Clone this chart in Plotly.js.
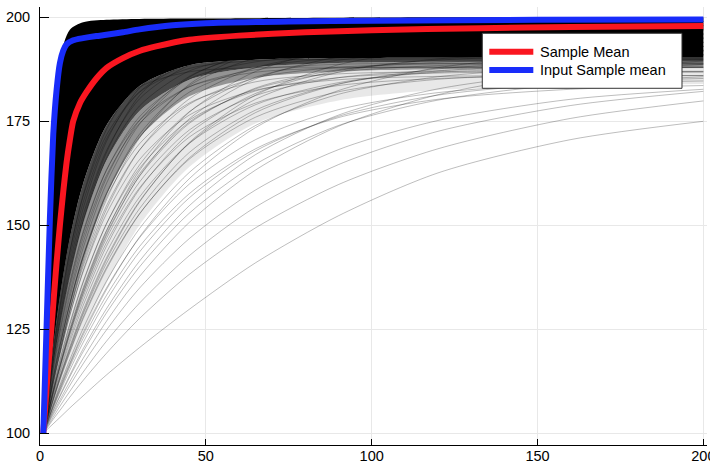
<!DOCTYPE html>
<html>
<head>
<meta charset="utf-8">
<script src="https://cdn.plot.ly/plotly-3.0.1.min.js"></script>
<style>html,body{margin:0;padding:0;background:#fff;}#chart{width:710px;height:468px;}</style>
</head>
<body>
<div id="chart"></div>
<script>
// ---- data ----
const seriesNames = ['Sample Mean', 'Input Sample mean'];
const xTicks = [0, 50, 100, 150, 200];
const yTicks = [100, 125, 150, 175, 200];

// shared x positions for the gray sample runs and the dense band envelopes
const xGrid = [1, 2, 4, 6, 9, 13, 20, 30, 45, 65, 90, 120, 160, 200];

// envelopes of the densely overlapping region of gray runs
const denseTop   = [100, 127, 173, 190, 197, 198.8, 199.4, 199.6, 199.7, 199.8, 199.9, 200, 200, 200];
const denseCore  = [100, 107, 121, 133, 147, 160, 174, 183.5, 188.5, 189.8, 190.2, 190.3, 190.3, 190.3];
const denseInner = [100, 105.5, 116.5, 126, 138, 150.5, 165.5, 177.5, 185, 188, 189, 189.3, 189.3, 189.3];
const denseMid   = [100, 104, 112, 119, 129, 141, 157, 171, 181, 185.5, 187, 187.5, 187.8, 188];
const denseLow   = [100, 102, 106, 110, 116, 124, 136, 150, 164, 174.5, 180, 182.5, 183.5, 184];

// individual gray sample runs
const run01 = [100, 100.8, 102.3, 103.8, 106.1, 109.0, 114.0, 120.6, 129.8, 141.0, 152.3, 162.6, 170.6, 175.0];
const run02 = [100, 101.3, 103.9, 106.5, 110.1, 114.7, 122.1, 131.3, 142.7, 154.4, 164.6, 172.6, 178.8, 182.2];
const run03 = [100, 101.5, 104.5, 107.4, 111.5, 116.7, 124.8, 134.9, 146.8, 158.5, 168.2, 175.2, 180.3, 182.7];
const run04 = [100, 101.8, 105.4, 108.8, 113.6, 119.6, 128.9, 140.0, 152.9, 164.7, 174.0, 180.1, 184.0, 185.7];
const run05 = [100, 102.1, 106.1, 109.9, 115.2, 121.8, 131.9, 143.6, 156.6, 167.9, 176.2, 181.3, 184.2, 185.3];
const run06 = [100, 102.4, 107.1, 111.6, 117.7, 125.2, 136.5, 149.2, 162.7, 174.0, 181.5, 185.7, 187.9, 188.6];
const run07 = [100, 102.8, 108.0, 113.0, 119.7, 127.9, 139.8, 152.8, 165.9, 176.0, 182.1, 185.1, 186.5, 186.8];
const run08 = [100, 103.2, 109.3, 114.9, 122.7, 131.8, 144.9, 158.7, 172.1, 181.7, 187.2, 189.7, 190.7, 190.9];
const run09 = [100, 103.4, 109.9, 115.9, 124.1, 133.5, 146.8, 160.4, 172.9, 181.2, 185.5, 187.2, 187.8, 188.0];
const run10 = [100, 104.1, 111.8, 118.9, 128.4, 139.1, 153.8, 168.1, 180.4, 187.9, 191.4, 192.6, 192.9, 193.0];
const run11 = [100, 104.4, 112.4, 119.7, 129.4, 140.1, 154.6, 168.1, 179.1, 185.4, 188.0, 188.8, 189.0, 189.0];
const run12 = [100, 105.1, 114.5, 122.8, 133.7, 145.8, 161.3, 175.2, 185.8, 191.3, 193.3, 193.9, 194.0, 194.0];
const run13 = [100, 105.6, 115.6, 124.4, 135.8, 148.0, 163.2, 176.1, 185.2, 189.3, 190.7, 190.9, 191.0, 191.0];
const run14 = [100, 106.4, 118.0, 128.0, 140.7, 154.0, 170.1, 183.0, 191.4, 194.8, 195.8, 196.0, 196.0, 196.0];
const run15 = [100, 106.8, 119.0, 129.3, 142.2, 155.5, 170.7, 182.1, 188.9, 191.3, 191.9, 192.0, 192.0, 192.0];
const run16 = [100, 107.8, 121.4, 133.1, 147.2, 161.3, 177.1, 188.3, 194.5, 196.5, 196.9, 197.0, 197.0, 197.0];
const run17 = [100, 108.1, 122.2, 133.9, 148.1, 161.8, 176.4, 186.3, 191.3, 192.7, 193.0, 193.0, 193.0, 193.0];
const run18 = [100, 109.3, 125.4, 138.5, 154.0, 168.5, 183.3, 192.6, 196.8, 197.8, 198.0, 198.0, 198.0, 198.0];
const run19 = [100, 109.9, 126.6, 140.0, 155.4, 169.2, 182.6, 190.2, 193.3, 193.9, 194.0, 194.0, 194.0, 194.0];
const run20 = [100, 111.6, 131.0, 146.0, 162.6, 176.9, 189.8, 196.4, 198.6, 199.0, 199.0, 199.0, 199.0, 199.0];
const run21 = [100, 112.6, 133.2, 148.5, 164.7, 177.9, 188.7, 193.5, 194.8, 195.0, 195.0, 195.0, 195.0, 195.0];
const run22 = [100, 114.9, 138.1, 154.8, 171.4, 183.9, 192.9, 196.2, 196.9, 197.0, 197.0, 197.0, 197.0, 197.0];
const run23 = [100, 117.9, 144.6, 162.6, 179.0, 190.0, 196.8, 198.7, 199.0, 199.0, 199.0, 199.0, 199.0, 199.0];
const run24 = [100, 119.1, 146.8, 164.4, 179.8, 189.3, 194.6, 195.8, 196.0, 196.0, 196.0, 196.0, 196.0, 196.0];
const run25 = [100, 124.4, 156.4, 174.5, 188.0, 194.8, 197.6, 198.0, 198.0, 198.0, 198.0, 198.0, 198.0, 198.0];
const run26 = [100, 102.7, 107.8, 112.7, 119.4, 127.5, 139.4, 152.7, 166.2, 177.1, 183.9, 187.6, 189.3, 189.8];
const run27 = [100, 103.8, 110.8, 117.3, 126.1, 136.2, 150.3, 164.5, 177.3, 185.6, 189.7, 191.4, 191.9, 192.0];
const run28 = [100, 104.8, 113.9, 121.9, 132.7, 144.5, 160.0, 174.3, 185.6, 191.7, 194.1, 194.8, 195.0, 195.0];
const run29 = [100, 105.7, 116.0, 124.9, 136.4, 148.5, 163.2, 175.3, 183.3, 186.8, 187.8, 188.0, 188.0, 188.0];
const run30 = [100, 108.8, 124.1, 136.8, 151.7, 166.1, 181.1, 190.9, 195.5, 196.8, 197.0, 197.0, 197.0, 197.0];
const run31 = [100, 104.2, 112.0, 119.0, 128.4, 138.8, 152.7, 165.8, 176.5, 182.5, 185.0, 185.8, 186.0, 186.0];
const run32 = [100, 114.2, 136.6, 153.1, 170.1, 183.4, 193.7, 197.9, 198.9, 199.0, 199.0, 199.0, 199.0, 199.0];
const run33 = [100, 103.4, 109.9, 115.9, 124.1, 133.7, 147.5, 161.9, 175.6, 185.2, 190.5, 192.9, 193.7, 193.9];
const run34 = [100, 102.2, 106.4, 110.3, 116.0, 122.8, 133.1, 144.9, 157.6, 168.4, 175.9, 180.3, 182.7, 183.6];
const run35 = [100, 101.1, 103.4, 105.5, 108.7, 112.7, 119.2, 127.6, 138.2, 149.4, 159.8, 168.4, 175.7, 179.9];
const run36 = [100, 102.9, 108.5, 113.7, 120.9, 129.5, 142.1, 155.8, 169.7, 180.3, 186.8, 190.0, 191.4, 191.8];
const run37 = [100, 103.1, 109.0, 114.4, 121.9, 130.7, 143.4, 156.8, 169.7, 179.0, 184.3, 186.8, 187.7, 187.9];
const run38 = [100, 103.5, 110.2, 116.3, 124.7, 134.3, 147.9, 161.8, 174.5, 183.0, 187.4, 189.2, 189.8, 190.0];
const run39 = [100, 103.8, 111.0, 117.7, 126.5, 136.5, 150.3, 163.7, 175.3, 182.3, 185.5, 186.6, 186.9, 187.0];
const run40 = [100, 104.6, 113.3, 121.0, 131.3, 142.6, 157.5, 171.2, 182.0, 187.9, 190.2, 190.8, 191.0, 191.0];
const run41 = [100, 105.4, 115.2, 123.9, 135.0, 147.0, 161.9, 174.5, 183.3, 187.4, 188.7, 188.9, 189.0, 189.0];
const run42 = [100, 106.2, 117.4, 127.2, 139.4, 152.4, 167.9, 180.4, 188.5, 191.9, 192.8, 193.0, 193.0, 193.0];
const run43 = [100, 107.2, 119.9, 130.7, 143.8, 156.9, 171.6, 182.0, 187.7, 189.6, 189.9, 190.0, 190.0, 190.0];
const run44 = [100, 108.3, 122.7, 134.7, 149.1, 163.1, 178.1, 188.2, 193.3, 194.7, 195.0, 195.0, 195.0, 195.0];
const run45 = [100, 109.6, 125.8, 138.8, 153.6, 167.0, 180.0, 187.4, 190.3, 190.9, 191.0, 191.0, 191.0, 191.0];
const run46 = [100, 111.3, 130.0, 144.6, 160.7, 174.6, 187.1, 193.4, 195.6, 196.0, 196.0, 196.0, 196.0, 196.0];
const run47 = [100, 112.2, 132.1, 146.9, 162.7, 175.4, 185.9, 190.5, 191.8, 192.0, 192.0, 192.0, 192.0, 192.0];
const run48 = [100, 115.1, 138.5, 155.4, 172.1, 184.8, 193.9, 197.2, 197.9, 198.0, 198.0, 198.0, 198.0, 198.0];
const run49 = [100, 102.3, 106.8, 111.1, 116.9, 124.1, 134.9, 147.0, 159.9, 170.6, 177.8, 181.9, 184.0, 184.7];
const run50 = [100, 102.2, 106.6, 110.7, 116.5, 123.6, 134.5, 147.2, 161.2, 173.5, 182.4, 187.9, 191.0, 192.3];
const run51 = [100, 103.5, 110.1, 116.2, 124.6, 134.5, 148.5, 163.2, 177.2, 187.0, 192.4, 194.8, 195.7, 195.9];
const run52 = [100, 103.6, 110.5, 116.7, 125.2, 135.0, 148.7, 162.4, 174.8, 182.8, 186.8, 188.4, 188.9, 189.0];
const run53 = [100, 104.6, 113.1, 120.8, 131.0, 142.4, 157.6, 171.9, 183.6, 190.2, 192.9, 193.8, 194.0, 194.0];
const run54 = [100, 104.7, 113.4, 121.1, 131.2, 142.4, 156.7, 169.6, 179.4, 184.5, 186.4, 186.9, 187.0, 187.0];
const run55 = [100, 105.9, 116.7, 126.1, 138.0, 150.7, 166.1, 178.7, 187.1, 190.7, 191.8, 192.0, 192.0, 192.0];
const run56 = [100, 107.0, 119.6, 130.3, 143.6, 157.3, 173.0, 184.8, 191.8, 194.3, 194.9, 195.0, 195.0, 195.0];
const run57 = [100, 108.4, 122.8, 134.6, 148.5, 161.5, 174.8, 183.2, 186.9, 187.9, 188.0, 188.0, 188.0, 188.0];
const run58 = [100, 104.3, 112.3, 119.7, 129.6, 140.7, 156.1, 171.0, 183.9, 191.7, 195.3, 196.6, 196.9, 197.0];
const run59 = [100, 101.9, 105.6, 109.1, 114.0, 120.3, 129.9, 141.4, 154.7, 167.0, 176.5, 182.8, 186.9, 188.7];
const run60 = [100, 102.9, 108.3, 113.4, 120.4, 129.0, 141.6, 155.6, 169.9, 181.3, 188.6, 192.4, 194.2, 194.8];
const run61 = [100, 103.4, 109.7, 115.6, 123.6, 132.8, 145.8, 159.0, 171.2, 179.4, 183.6, 185.3, 185.8, 186.0];
const run62 = [100, 101.7, 104.9, 108.0, 112.4, 118.0, 126.9, 137.7, 150.7, 163.3, 173.8, 181.4, 186.9, 189.5];
const run63 = [100, 105.9, 116.6, 126.0, 138.1, 151.2, 167.4, 181.2, 190.8, 195.2, 196.6, 196.9, 197.0, 197.0];
const run64 = [100, 109.8, 126.3, 139.6, 154.8, 168.4, 181.7, 189.3, 192.3, 192.9, 193.0, 193.0, 193.0, 193.0];
const run65 = [100, 102.8, 108.2, 113.3, 120.2, 128.6, 140.8, 154.0, 167.5, 177.7, 184.0, 187.1, 188.5, 188.8];

// sample mean (red)
const meanX = [1, 2, 3, 4, 5, 6, 7, 8, 9, 10, 12, 14, 17, 20, 25, 30, 35, 45, 60, 80, 100, 133, 160, 200];
const meanY = [100, 111, 121, 131, 141, 150, 158, 165, 170.5, 175, 179.3, 182, 185.3, 187.8, 190.2, 191.9, 193, 194.6, 195.6, 196.4, 196.9, 197.4, 197.7, 197.9];
// input sample mean (blue)
const inputX = [1, 2, 3, 4, 5, 6, 7, 8, 10, 13, 17, 20, 25, 30, 40, 50, 75, 100, 150, 200];
const inputY = [100, 126, 152, 172, 182.5, 189, 192, 193.5, 194.5, 195, 195.5, 195.8, 196.4, 197.1, 198.1, 198.6, 199, 199.2, 199.4, 199.5];

const grayRuns = [run01, run02, run03, run04, run05, run06, run07, run08, run09, run10,
  run11, run12, run13, run14, run15, run16, run17, run18, run19, run20,
  run21, run22, run23, run24, run25, run26, run27, run28, run29, run30,
  run31, run32, run33, run34, run35, run36, run37, run38, run39, run40,
  run41, run42, run43, run44, run45, run46, run47, run48, run49, run50,
  run51, run52, run53, run54, run55, run56, run57, run58, run59, run60,
  run61, run62, run63, run64, run65];

// ---- styles ----
const RED = 'rgb(250,22,32)';
const BLUE = 'rgb(24,44,250)';
const FONT = '"Liberation Sans", Arial, Helvetica, sans-serif';

const traces = [];
function band(y, fill, fillcolor) {
  const t = {x: xGrid, y: y, type: 'scatter', mode: 'lines',
    line: {width: 0, shape: 'spline', smoothing: 0.8, color: 'rgba(0,0,0,0)'},
    hoverinfo: 'skip', showlegend: false};
  if (fill) { t.fill = 'tonexty'; t.fillcolor = fillcolor; }
  return t;
}
traces.push(band(denseLow, false));
traces.push(band(denseMid, true, 'rgba(0,0,0,0.09)'));
traces.push(band(denseInner, true, 'rgba(0,0,0,0.42)'));
traces.push(band(denseCore, true, 'rgba(0,0,0,0.72)'));
traces.push(band(denseTop, true, 'rgba(0,0,0,1)'));

grayRuns.forEach(function (r) {
  traces.push({x: xGrid, y: r, type: 'scatter', mode: 'lines',
    line: {width: 1, color: 'rgba(0,0,0,0.26)', shape: 'spline', smoothing: 0.8},
    hoverinfo: 'skip', showlegend: false});
});

traces.push({x: meanX, y: meanY, name: seriesNames[0], type: 'scatter', mode: 'lines',
  line: {width: 6, color: RED, shape: 'spline', smoothing: 0.6}});
traces.push({x: inputX, y: inputY, name: seriesNames[1], type: 'scatter', mode: 'lines',
  line: {width: 6, color: BLUE, shape: 'spline', smoothing: 0.6}});

// legend drawn in paper coordinates
const lgX0 = 0.6631, lgX1 = 0.9625, lgY0 = 0.8144, lgY1 = 0.9400;
const swX0 = 0.6736, swX1 = 0.7396, row1 = 0.8979, row2 = 0.8562, txtX = 0.7465;

const layout = {
  width: 710, height: 468,
  margin: {l: 40, r: 3, t: 7, b: 23, pad: 0},
  paper_bgcolor: '#fff', plot_bgcolor: '#fff',
  showlegend: false,
  font: {family: FONT, size: 14.5, color: '#000'},
  xaxis: {range: [0, 201.1], tickvals: xTicks, ticktext: xTicks.map(String),
    ticks: 'inside', ticklen: 6, tickwidth: 1, tickcolor: '#000',
    showline: true, linecolor: '#000', linewidth: 1,
    showgrid: true, gridcolor: '#e8e8e8', gridwidth: 1, zeroline: false,
    ticklabeloverflow: 'allow',
    tickfont: {family: FONT, size: 14.5, color: '#000'}, ticklabelstandoff: -2},
  yaxis: {range: [97.19, 202.48], tickvals: yTicks, ticktext: yTicks.map(String),
    ticks: 'inside', ticklen: 9, tickwidth: 1, tickcolor: '#000',
    showline: true, linecolor: '#000', linewidth: 1,
    showgrid: true, gridcolor: '#e8e8e8', gridwidth: 1, zeroline: false,
    tickfont: {family: FONT, size: 14.5, color: '#000'}, ticklabelstandoff: 6},
  shapes: [
    {type: 'rect', xref: 'paper', yref: 'paper', x0: lgX0, x1: lgX1, y0: lgY0, y1: lgY1,
      line: {color: '#333', width: 1}, fillcolor: '#fff', layer: 'above'},
    {type: 'line', xref: 'paper', yref: 'paper', x0: swX0, x1: swX1, y0: row1, y1: row1,
      line: {color: RED, width: 6}, layer: 'above'},
    {type: 'line', xref: 'paper', yref: 'paper', x0: swX0, x1: swX1, y0: row2, y1: row2,
      line: {color: BLUE, width: 6}, layer: 'above'}
  ],
  annotations: [
    {xref: 'paper', yref: 'paper', x: txtX, y: row1, xanchor: 'left', yanchor: 'middle',
      text: seriesNames[0], showarrow: false, font: {family: FONT, size: 14.5, color: '#000'}},
    {xref: 'paper', yref: 'paper', x: txtX, y: row2, xanchor: 'left', yanchor: 'middle',
      text: seriesNames[1], showarrow: false, font: {family: FONT, size: 14.5, color: '#000'}}
  ]
};

Plotly.newPlot('chart', traces, layout, {staticPlot: true, displayModeBar: false});
</script>
</body>
</html>
